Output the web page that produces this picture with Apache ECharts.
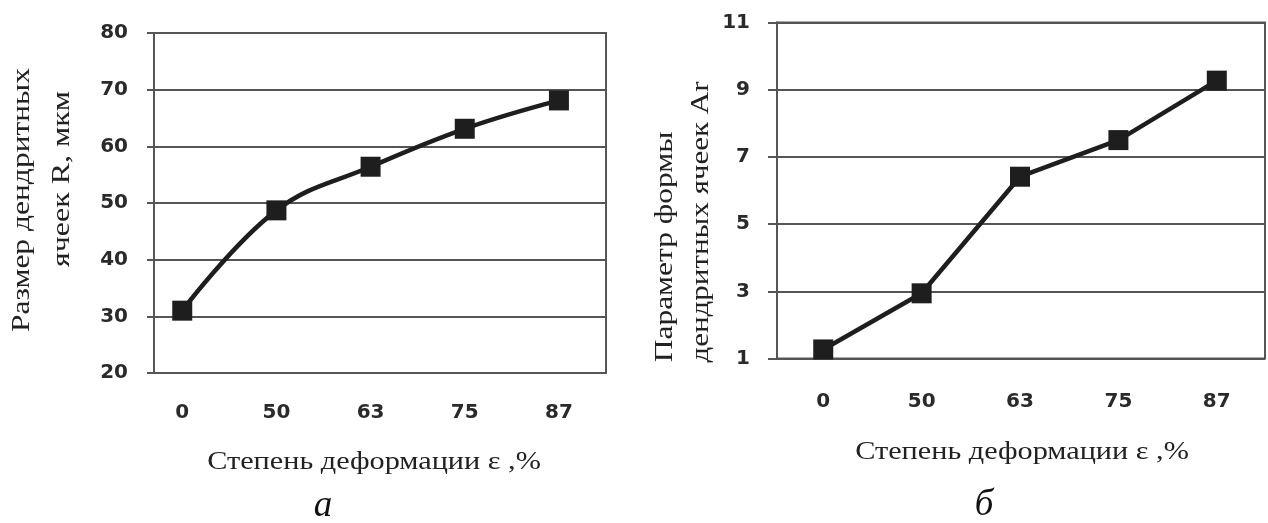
<!DOCTYPE html>
<html>
<head>
<meta charset="utf-8">
<script src="https://cdn.jsdelivr.net/npm/echarts@6/dist/echarts.min.js"></script>
<style>
  html, body { margin: 0; padding: 0; background: #fff; }
  #chart { width: 1268px; height: 523px; }
</style>
</head>
<body>
<div id="chart"></div>
<script>
// Degree of deformation, %
const categories = ['0', '50', '63', '75', '87'];
// (а) dendritic cell size R, µm
const cellSize = [31.0, 48.7, 56.4, 63.1, 68.1];
// (б) dendritic cell shape parameter Ar
const shapeParam = [1.27, 2.94, 6.41, 7.50, 9.27];
// y tick values
const sizeTicks = [20, 30, 40, 50, 60, 70, 80];
const shapeTicks = [1, 3, 5, 7, 9, 11];

const xTitle = 'Степень деформации ε ,%';
const gridColor = '#555';
const inkColor = '#1e1e1e';
const tickFont = 'DejaVu Sans';
const serif = 'Liberation Serif';

const catIdx = categories.map((_, i) => i);

function xAxisFor(gridIndex, min, max, margin) {
  return {
    gridIndex, type: 'value', min, max,
    axisLine: { show: false }, axisTick: { show: false }, splitLine: { show: false },
    axisLabel: {
      customValues: catIdx, margin,
      formatter: v => categories[Math.round(v)],
      fontFamily: tickFont, fontWeight: 'bold', fontSize: 20, color: '#2a2a2a'
    }
  };
}

function yAxisFor(gridIndex, ticks, tickLen, margin) {
  return {
    gridIndex, type: 'value', min: ticks[0], max: ticks[ticks.length - 1],
    axisLine: { show: true, onZero: false, lineStyle: { color: gridColor, width: 2 } },
    axisTick: { show: true, inside: false, length: tickLen, customValues: ticks,
                lineStyle: { color: gridColor, width: 2 } },
    axisLabel: { customValues: ticks, margin, fontFamily: tickFont, fontWeight: 'bold',
                 fontSize: 20, color: '#2a2a2a' },
    splitLine: { show: true, lineStyle: { color: gridColor, width: 2 } }
  };
}

// Serif captions, widened along the reading direction
function caption(text, x, y, rotated, stretch) {
  return {
    type: 'text', x, y, rotation: rotated ? Math.PI / 2 : 0, scaleX: stretch, silent: true,
    style: { text, font: '25px "' + serif + '"', fill: '#222',
             align: 'center', verticalAlign: 'middle',
             textAlign: 'center', textVerticalAlign: 'middle' }
  };
}

function letter(text, x, y) {
  return {
    type: 'text', x, y, silent: true,
    style: { text, font: 'italic 37px "' + serif + '"', fill: '#111',
             align: 'center', verticalAlign: 'middle',
             textAlign: 'center', textVerticalAlign: 'middle' }
  };
}

const lineSeries = (idx, values, smooth) => ({
  type: 'line', xAxisIndex: idx, yAxisIndex: idx, smooth,
  data: values.map((v, i) => [i, v]),
  symbol: 'rect', symbolSize: 20,
  lineStyle: { color: inkColor, width: 4.5 },
  itemStyle: { color: inkColor, borderWidth: 0 },
  z: 5
});

const chart = echarts.init(document.getElementById('chart'), null, { renderer: 'canvas' });
chart.setOption({
  backgroundColor: '#fff',
  animation: false,
  grid: [
    { left: 154, right: 662, top: 33, bottom: 150, show: true, borderColor: gridColor, borderWidth: 2 },
    { left: 777, right: 3, top: 22.5, bottom: 164.5, show: true, borderColor: gridColor, borderWidth: 2 }
  ],
  xAxis: [
    xAxisFor(0, -0.30, 4.50, 30),
    xAxisFor(1, -0.47, 4.49, 33)
  ],
  yAxis: [
    yAxisFor(0, sizeTicks, 7, 26),
    yAxisFor(1, shapeTicks, 9, 27)
  ],
  series: [
    lineSeries(0, cellSize, 0.4),
    lineSeries(1, shapeParam, false)
  ],
  graphic: [
    caption(xTitle, 374, 462, false, 1.21),
    caption(xTitle, 1022, 452, false, 1.21),
    caption('Размер дендритных', 22, 200, true, 1.26),
    caption('ячеек R, мкм', 62, 179, true, 1.28),
    caption('Параметр формы', 665, 247, true, 1.26),
    caption('дендритных ячеек Ar', 701, 222, true, 1.24),
    letter('а', 323, 506),
    letter('б', 984, 505)
  ]
});
</script>
</body>
</html>
